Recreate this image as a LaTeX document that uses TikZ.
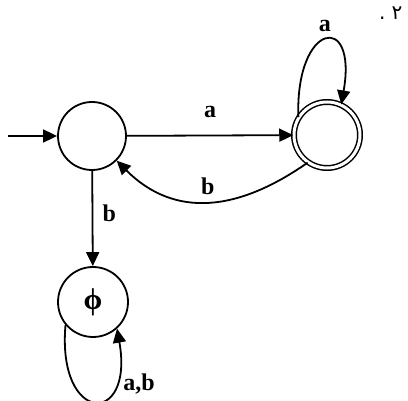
\documentclass[tikz,border=0pt]{standalone}
\usepackage{fontspec}
\setmainfont{Liberation Serif}
\newfontfamily\arabicfont[Script=Arabic]{DejaVu Sans}
\TeXXeTstate=1
\usetikzlibrary{arrows.meta}

\begin{document}
\begin{tikzpicture}[x=1pt,y=-1pt,
  state/.style={draw,circle,line width=1.8pt,inner sep=0pt,minimum size=68pt},
  edge/.style={line width=1.8pt,-{Triangle[length=14pt,width=13pt]}},
  lab/.style={font=\fontsize{24}{28}\selectfont\bfseries}]
\useasboundingbox (0,0) rectangle (408,401);
    \node[state] (q0) at (92,136) {};
    \node[state,minimum size=66pt,line width=1.5pt,double,double distance=3pt] (q1) at (327,135) {};
    \node[state,minimum size=70pt,font=\fontsize{30}{34}\selectfont\bfseries] (q2) at (93,302) {ϕ};
    \coordinate (start) at (8,136);
    \node[font=\arabicfont\fontsize{20}{24}\selectfont,anchor=east] (num) at (406,13) {\beginR ٢ .\endR};
    \draw[edge] (start) -- (q0);
    \draw[edge] (q0) -- node[lab,above=14pt] {a} (q1);
    \draw[edge] (q1.-125) .. controls +(-145:85pt) and +(-45:82pt) .. node[lab,above=3pt] {b} (q0.-45);
    \draw[edge] (q0) -- node[lab,right=6pt,pos=0.45] {b} (q2);
    % loops
    \draw[edge] (q1.148) .. controls +(92:95pt) and +(80:95pt) .. node[lab,above=4pt] {a} (q1.65);
    \draw[edge] (q2.-140) .. controls +(-95:100pt) and +(-80:100pt) .. node[lab,right=4pt,pos=0.75] {a,b} (q2.-48);
\end{tikzpicture}
\end{document}
